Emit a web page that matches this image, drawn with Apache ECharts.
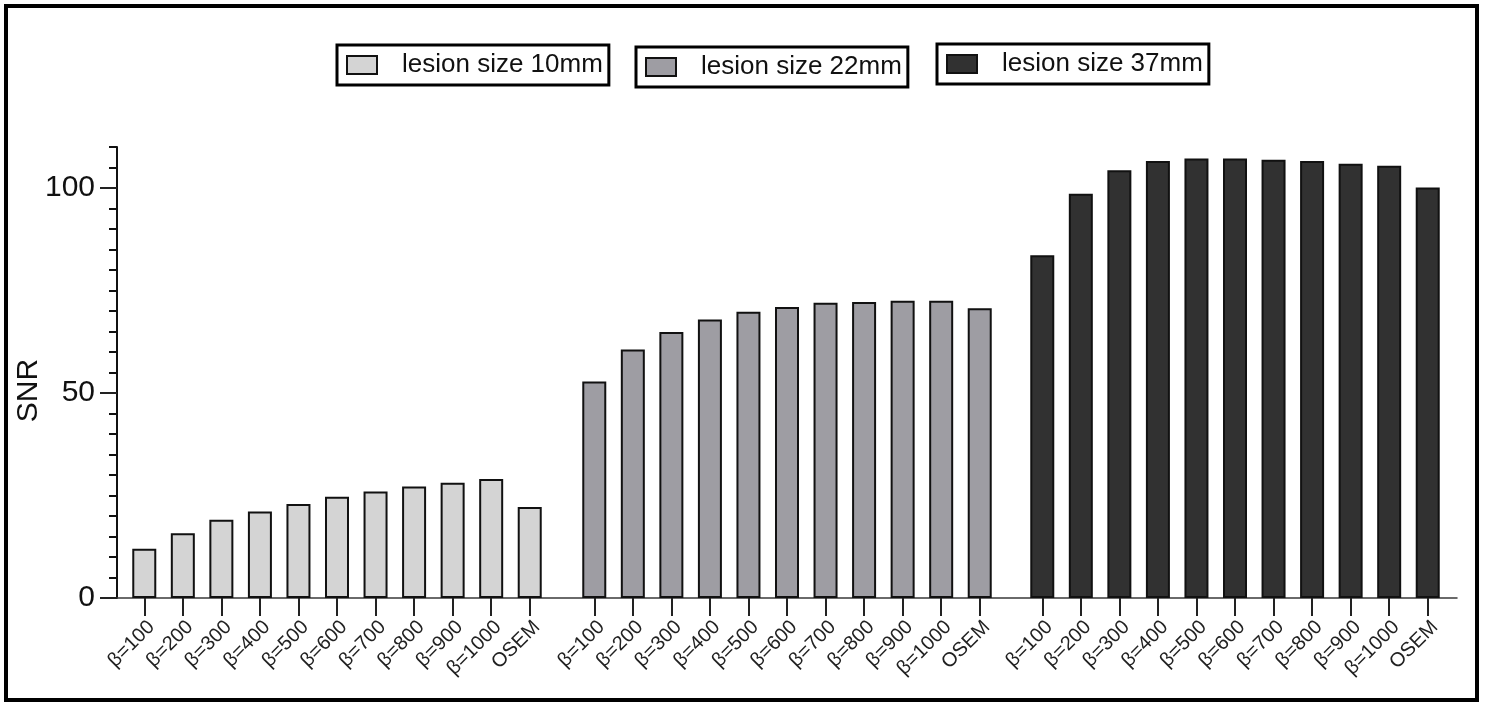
<!DOCTYPE html>
<html>
<head>
<meta charset="utf-8">
<script src="https://cdn.jsdelivr.net/npm/echarts@6/dist/echarts.min.js"></script>
<style>
  html, body { margin: 0; padding: 0; background: #fff; }
  #main { width: 1485px; height: 705px; }
</style>
</head>
<body>
<div id="main"></div>
<script>
// categories (same for every lesion size)
var betaLabels = ['β=100', 'β=200', 'β=300', 'β=400', 'β=500', 'β=600', 'β=700', 'β=800', 'β=900', 'β=1000', 'OSEM'];

// SNR values
var snr10mm = [12.0, 15.8, 19.1, 21.1, 22.9, 24.7, 26.0, 27.2, 28.1, 29.0, 22.2];
var snr22mm = [52.8, 60.6, 64.9, 67.9, 69.8, 71.0, 72.0, 72.2, 72.5, 72.5, 70.7];
var snr37mm = [83.6, 98.6, 104.3, 106.6, 107.2, 107.2, 106.9, 106.6, 105.9, 105.4, 100.1];

var seriesNames = ['lesion size 10mm', 'lesion size 22mm', 'lesion size 37mm'];

// y axis ticks
var yMajorTicks = [0, 50, 100];
var yMinorTicks = [5, 10, 15, 20, 25, 30, 35, 40, 45, 55, 60, 65, 70, 75, 80, 85, 90, 95, 105, 110];

var FONT = 'Liberation Sans, Arial, sans-serif';
var fills = ['#d4d4d4', '#9e9da3', '#313131'];
var groups = [snr10mm, snr22mm, snr37mm];

var chart = echarts.init(document.getElementById('main'));

var gridTop = 147, gridBottom = 107;
// one base grid for the axes, one grid per lesion size
var grids = [
    {left: 117, right: 28, top: gridTop, bottom: gridBottom},
    {left: 125, width: 424, top: gridTop, bottom: gridBottom},
    {left: 575, width: 424, top: gridTop, bottom: gridBottom},
    {left: 1023, width: 424, top: gridTop, bottom: gridBottom}
];

var xAxes = [{
    gridIndex: 0, type: 'value', min: 0, max: 1,
    axisLine: {show: true, onZero: false, lineStyle: {color: '#3a3a3a', width: 1.5}},
    axisTick: {show: false}, axisLabel: {show: false}, splitLine: {show: false}
}];
var yAxes = [{
    gridIndex: 0, type: 'value', position: 'left', min: 0, max: 110,
    name: 'SNR', nameLocation: 'middle', nameGap: 73, nameRotate: 90, nameMoveOverlap: false,
    nameTextStyle: {fontFamily: FONT, fontSize: 30, color: '#111', padding: [0, 36, 0, 0]},
    axisLine: {show: true, lineStyle: {color: '#111', width: 2}},
    axisTick: {show: true, length: 17, customValues: yMajorTicks, lineStyle: {color: '#222', width: 2}},
    axisLabel: {show: true, customValues: yMajorTicks, margin: 22, fontFamily: FONT, fontSize: 30, color: '#111'},
    splitLine: {show: false}
}, {
    gridIndex: 0, type: 'value', position: 'left', offset: 0, min: 0, max: 110,
    axisLine: {show: false},
    axisTick: {show: true, length: 8, customValues: yMinorTicks, lineStyle: {color: '#111', width: 2}},
    axisLabel: {show: false},
    splitLine: {show: false}
}];
var series = [];
var legends = [];
var legendLefts = [337, 636, 937];
var legendTops = [45, 47, 44];

for (var g = 0; g < 3; g++) {
    xAxes.push({
        gridIndex: g + 1, type: 'category', data: betaLabels,
        axisLine: {show: false},
        axisTick: {show: true, alignWithLabel: true, length: 18, lineStyle: {color: '#222', width: 2}},
        axisLabel: {rotate: 45, margin: 19, interval: 0, verticalAlign: 'top',
            fontFamily: FONT, fontSize: 20, color: '#222'}
    });
    yAxes.push({gridIndex: g + 1, type: 'value', min: 0, max: 110, show: false});
    series.push({
        name: seriesNames[g], type: 'bar',
        xAxisIndex: g + 1, yAxisIndex: g + 2,
        data: groups[g], barWidth: 24,
        itemStyle: {color: fills[g], borderColor: '#111', borderWidth: 2}
    });
    legends.push({
        data: [seriesNames[g]], left: legendLefts[g], top: legendTops[g],
        icon: 'rect', itemWidth: 30, itemHeight: 18,
        padding: [7, 6, 7, 9],
        borderColor: '#000', borderWidth: 3,
        textStyle: {fontFamily: FONT, fontSize: 26, color: '#111', padding: [0, 0, 0, 20]}
    });
}

chart.setOption({
    backgroundColor: '#fff',
    animation: false,
    grid: grids,
    xAxis: xAxes,
    yAxis: yAxes,
    legend: legends,
    series: series,
    graphic: [{
        type: 'rect', silent: true,
        shape: {x: 6, y: 6, width: 1471, height: 694},
        style: {fill: 'none', stroke: '#000', lineWidth: 4}
    }]
});
</script>
</body>
</html>
